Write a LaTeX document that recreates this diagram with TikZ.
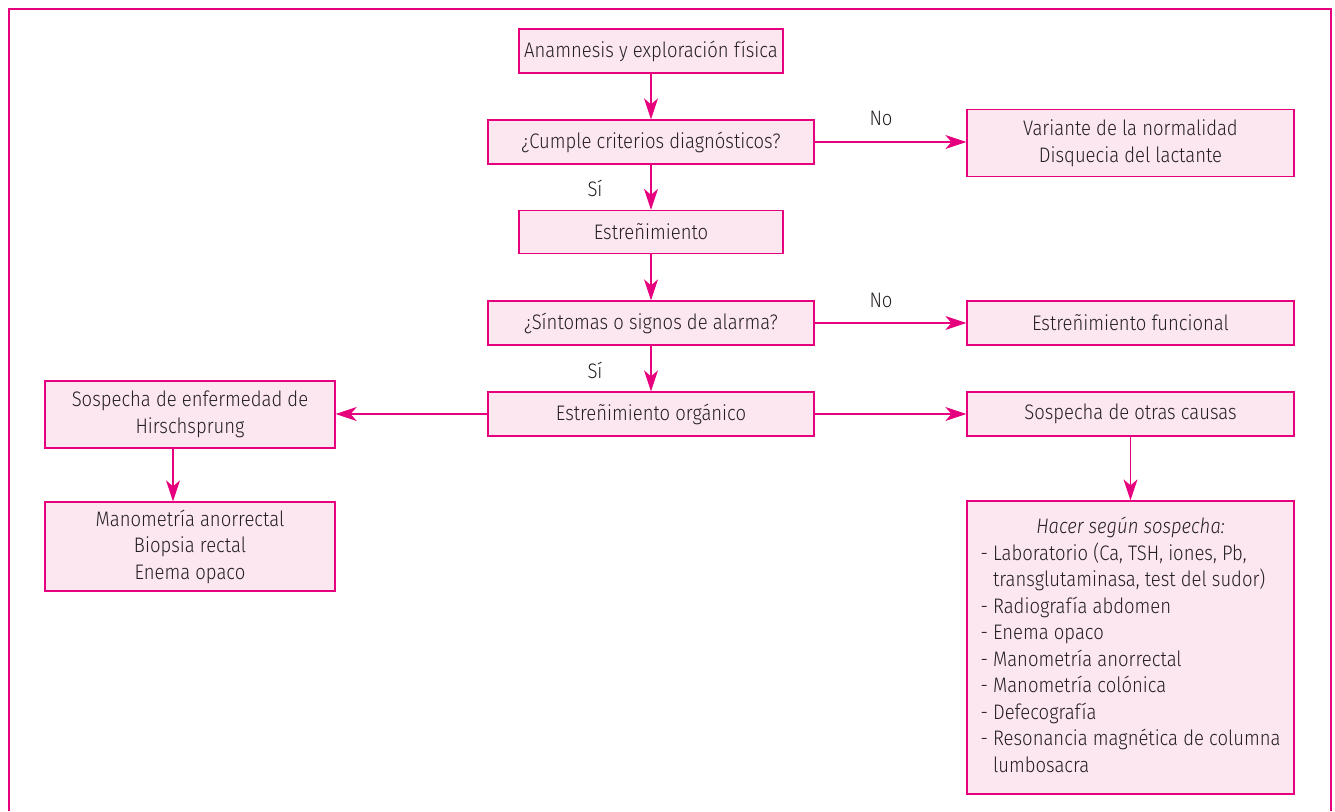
\documentclass[tikz,border=0pt]{standalone}
\usepackage{fontspec}
\setmainfont{Fira Sans}[UprightFont=* Light, ItalicFont=* Light Italic, FakeStretch=0.88]
\usetikzlibrary{arrows.meta,calc}
\definecolor{mag}{HTML}{E6007E}
\definecolor{pinkfill}{HTML}{FCE6F0}
\definecolor{txt}{HTML}{231F20}
\begin{document}
\begin{tikzpicture}[x=1pt,y=-1pt,
  box/.style={draw=mag, fill=pinkfill, line width=1.3pt, inner sep=0pt, align=center, text=txt, font=\fontsize{21}{26.5}\selectfont},
  conn/.style={draw=mag, line width=1.3pt, -{Stealth[length=21pt,width=14pt,inset=6pt]}},
  lbl/.style={text=txt, inner sep=0pt, font=\fontsize{21}{26.5}\selectfont}]
\useasboundingbox (0,0) rectangle (1335,811);
\draw[mag, line width=2pt] (9,811) -- (9,9) -- (1331,9) -- (1331,811);

\node[box, minimum width=264pt, minimum height=44pt] (b1) at (651,51) {Anamnesis y exploración física};
\node[box, minimum width=326pt, minimum height=44pt] (b2) at (651,142) {¿Cumple criterios diagnósticos?};
\node[box, minimum width=327pt, minimum height=67pt] (b3) at (1130.5,143) {Variante de la normalidad\\Disquecia del lactante};
\node[box, minimum width=264pt, minimum height=43pt] (b4) at (651,232) {Estreñimiento};
\node[box, minimum width=326pt, minimum height=44pt] (b5) at (651,323) {¿Síntomas o signos de alarma?};
\node[box, minimum width=327pt, minimum height=44pt] (b6) at (1130.5,323) {Estreñimiento funcional};
\node[box, minimum width=326pt, minimum height=44pt] (b7) at (651,414) {Estreñimiento orgánico};
\node[box, minimum width=290pt, minimum height=67pt] (b8) at (190,414.5) {Sospecha de enfermedad de\\Hirschsprung};
\node[box, minimum width=327pt, minimum height=44pt] (b9) at (1130.5,414) {Sospecha de otras causas};
\node[box, minimum width=290pt, minimum height=89pt] (b10) at (190,546.5) {Manometría anorrectal\\Biopsia rectal\\Enema opaco};
\node[box, minimum width=327pt, minimum height=293pt] (b11) at (1130.5,647.5) {%
\begin{tabular}{@{}l@{}}
\multicolumn{1}{@{}c@{}}{\itshape Hacer según sospecha:}\\
- Laboratorio (Ca, TSH, iones, Pb,\\
\phantom{- }transglutaminasa, test del sudor)\\
- Radiografía abdomen\\
- Enema opaco\\
- Manometría anorrectal\\
- Manometría colónica\\
- Defecografía\\
- Resonancia magnética de columna\\
\phantom{- }lumbosacra
\end{tabular}};

\node[lbl] (no1) at (881,118) {No};
\node[lbl] (no2) at (881,300) {No};
\node[lbl] (si1) at (595,188) {Sí};
\node[lbl] (si2) at (595,370) {Sí};

\draw[conn] (b1) -- (b2);
\draw[conn] (b2) -- (b3.west |- b2.east);
\draw[conn] (b2) -- (b4);
\draw[conn] (b4) -- (b5);
\draw[conn] (b5) -- (b6);
\draw[conn] (b5) -- (b7);
\draw[conn] (b7) -- (b8.east |- b7.west);
\draw[conn] (b7) -- (b9);
\draw[conn] ([xshift=-17pt]b8.south) -- ([xshift=-17pt]b10.north);
\draw[conn] (b9) -- (b11);
\end{tikzpicture}
\end{document}
